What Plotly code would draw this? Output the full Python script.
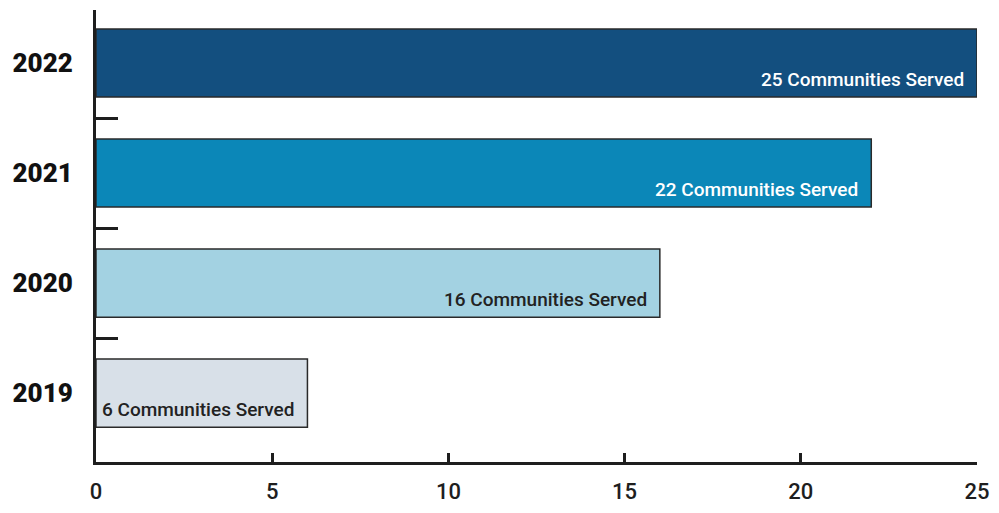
import plotly.graph_objects as go

years = ["2019", "2020", "2021", "2022"]
communities = [6, 16, 22, 25]
bar_labels = ["6 Communities Served", "16 Communities Served", "22 Communities Served", "25 Communities Served"]
bar_colors = ["#d8e0e8", "#a3d2e2", "#0b87b8", "#134f7f"]
label_colors = ["#222222", "#222222", "#ffffff", "#ffffff"]
x_ticks = [0, 5, 10, 15, 20, 25]
boundaries = [0.5, 1.5, 2.5]

ypos = list(range(len(years)))

fig = go.Figure()
fig.add_trace(go.Bar(
    x=communities, y=ypos, orientation="h", width=0.62,
    marker=dict(color=bar_colors, line=dict(color="#2a2a2a", width=1.5)),
    hoverinfo="skip", showlegend=False, cliponaxis=False,
))
fig.add_trace(go.Scatter(x=[None], y=[None], yaxis="y2", showlegend=False, hoverinfo="skip"))

for v, yp, t, c in zip(communities, ypos, bar_labels, label_colors):
    fig.add_annotation(
        x=v, y=yp, text=t, showarrow=False, xanchor="right", yanchor="middle",
        xshift=-11, yshift=-16,
        font=dict(family="Roboto", size=19, color=c, weight=500),
    )

fig.update_layout(
    width=991, height=505,
    margin=dict(l=88, r=22, t=2, b=51),
    paper_bgcolor="white", plot_bgcolor="white",
    xaxis=dict(
        range=[0, 25], tickvals=x_ticks, ticktext=[str(v) for v in x_ticks],
        showgrid=False, zeroline=False, automargin=False,
        showline=True, linecolor="#1e1e1e", linewidth=3,
        ticks="inside", ticklen=9, tickwidth=3, tickcolor="#1e1e1e",
        ticklabelstandoff=8,
        tickfont=dict(family="Roboto", size=22, color="#1e1e1e", weight=500),
    ),
    yaxis=dict(
        range=[-0.627, 3.482], tickvals=ypos, ticktext=years,
        showgrid=False, zeroline=False, automargin=False,
        showline=True, linecolor="#1e1e1e", linewidth=3,
        ticks="", ticklabelstandoff=15,
        tickfont=dict(family="Roboto", size=26, color="#111111", weight=900),
    ),
    yaxis2=dict(
        overlaying="y", matches="y", side="left", automargin=False,
        tickvals=boundaries, showticklabels=False,
        showgrid=False, zeroline=False, showline=False,
        ticks="inside", ticklen=22, tickwidth=3, tickcolor="#1e1e1e",
    ),
)

fig.write_html("out.html")
